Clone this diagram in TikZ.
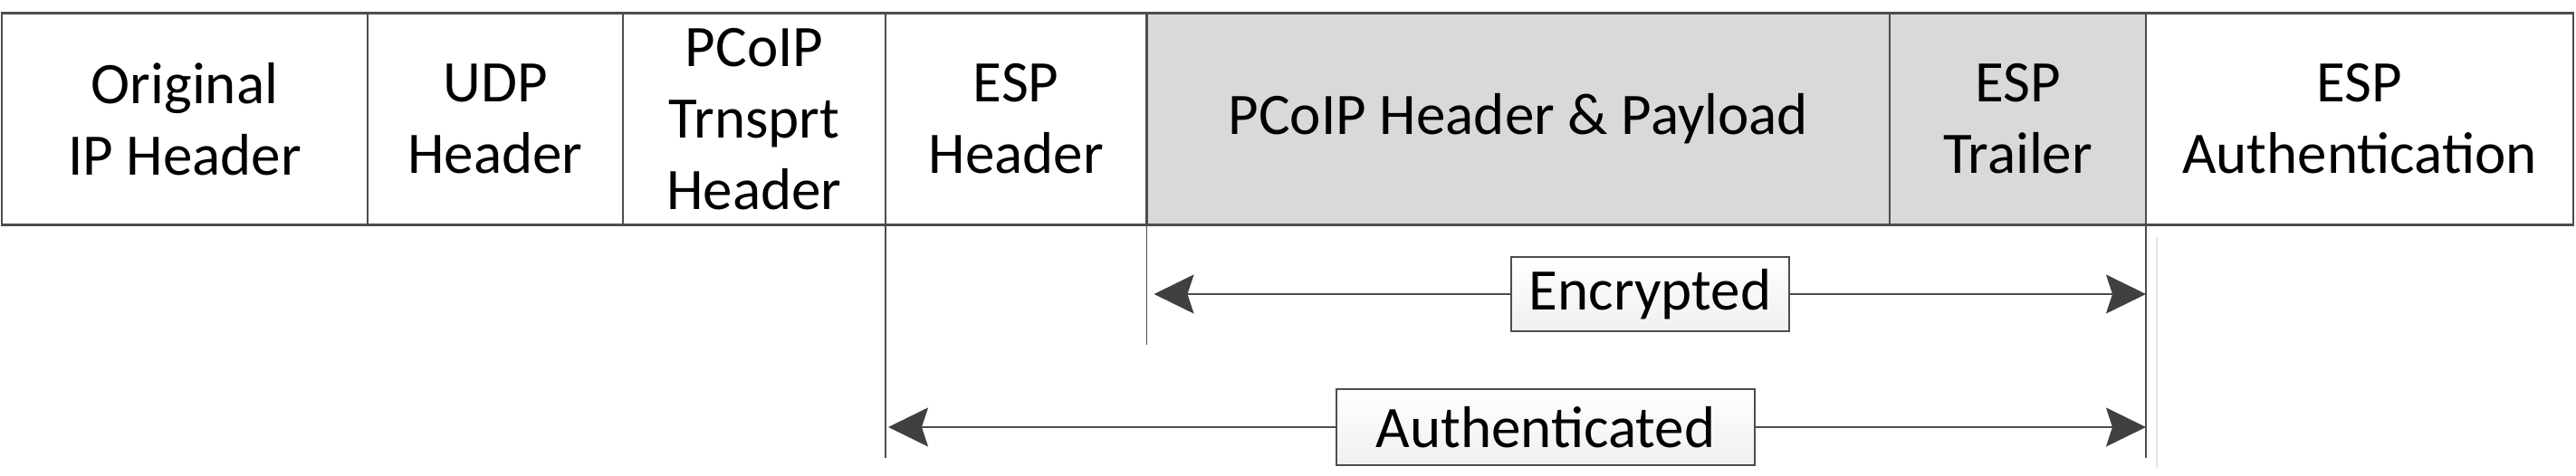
\documentclass[tikz,border=0pt]{standalone}
\usepackage{fontspec}
\setmainfont{Carlito}
\usepackage{tikz}
\usetikzlibrary{arrows.meta,positioning}
\definecolor{rule}{HTML}{4D4D4D}
\definecolor{arrowgray}{HTML}{404040}
\definecolor{cipherbg}{HTML}{D9D9D9}
\definecolor{faint}{HTML}{E4E4E4}
\tikzset{
  field/.style={draw=rule,line width=0.6pt,minimum height=2.34cm,
                align=center,inner sep=0pt,outer sep=0pt,
                font=\fontsize{18.5}{22.5}\selectfont},
  cipherfield/.style={field,fill=cipherbg},
  spantag/.style={draw=rule,line width=0.7pt,top color=white,bottom color=gray!12,
                  minimum height=0.82cm,inner sep=0pt,
                  font=\fontsize{18.5}{22.5}\selectfont},
  spanarr/.style={-{Stealth[length=4.4mm,width=4.3mm,inset=0.7mm,color=arrowgray]},
                  line width=0.55pt,draw=rule},
  markline/.style={draw=rule,line width=0.5pt}
}
\begin{document}
\begin{tikzpicture}[x=1cm,y=1cm]
    \path[use as bounding box] (0,0) rectangle (28.45,5.26);
    % packet fields
    \node[field,minimum width=4.04cm] (origip) at (2.04,3.945)
      {Original\\IP Header};
    \node[field,minimum width=2.82cm,right=0pt of origip] (udp)
      {UDP\\Header};
    \node[field,minimum width=2.90cm,right=0pt of udp] (trnsprt)
      {PCoIP\\Trnsprt\\Header};
    \node[field,minimum width=2.885cm,right=0pt of trnsprt] (esphdr)
      {ESP\\Header};
    \node[cipherfield,minimum width=8.205cm,right=0pt of esphdr] (payload)
      {PCoIP Header \& Payload};
    \node[cipherfield,minimum width=2.83cm,right=0pt of payload] (esptrl)
      {ESP\\Trailer};
    \node[field,minimum width=4.72cm,right=0pt of esptrl] (espauth)
      {ESP\\Authentication};

    % span markers
    \draw[markline] (esphdr.south west) -- ++(0,-2.575);
    \draw[markline] (payload.south west) -- ++(0,-1.325);
    \draw[markline] (esptrl.south east) -- ++(0,-2.575);
    \draw[faint,line width=0.5pt] ([xshift=1.2mm,yshift=-1.35mm]esptrl.south east) -- ++(0,-2.55);

    % encrypted span
    \node[spantag,minimum width=3.07cm] (enc) at (18.225,2.01) {Encrypted};
    \coordinate (encl) at ([xshift=0.08cm]payload.south west |- enc);
    \coordinate (encr) at (esptrl.south east |- enc);
    \draw[spanarr] (enc.west) -- (encl);
    \draw[spanarr] (enc.east) -- (encr);

    % authenticated span
    \node[spantag,minimum width=4.62cm,minimum height=0.84cm] (auth) at (17.07,0.54)
      {Authenticated};
    \coordinate (authl) at ([xshift=0.03cm]esphdr.south west |- auth);
    \coordinate (authr) at (esptrl.south east |- auth);
    \draw[spanarr] (auth.west) -- (authl);
    \draw[spanarr] (auth.east) -- (authr);
  \end{tikzpicture}
\end{document}
